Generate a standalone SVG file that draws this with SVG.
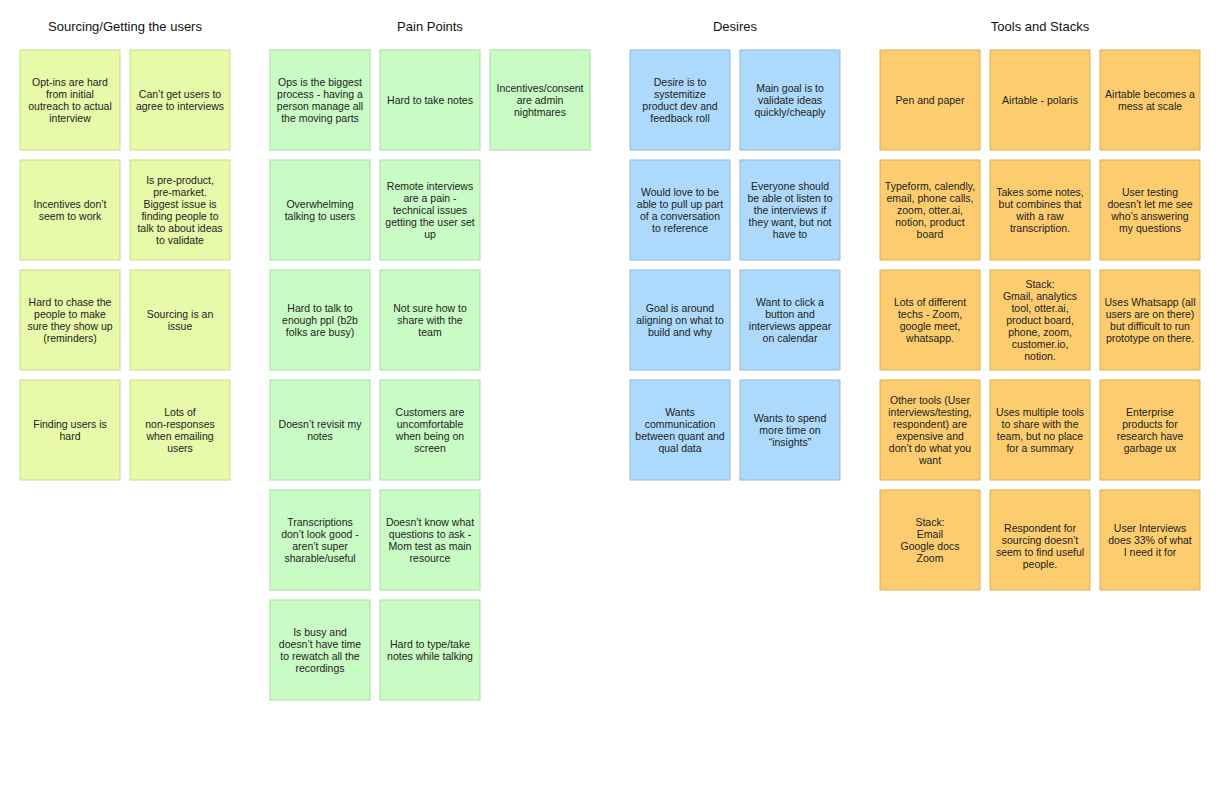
<svg xmlns="http://www.w3.org/2000/svg" width="1224" height="792" viewBox="0 0 1224 792">
<style>
text{font-family:"Liberation Sans",Arial,sans-serif;font-size:10.5px;fill:#222;text-anchor:middle}
.h{font-size:13px;fill:#111}
rect{stroke-width:1}
.a rect{fill:#e8f9a9;stroke:#c8dc8c}
.b rect{fill:#c9fcc4;stroke:#a8dba0}
.c rect{fill:#acd9fc;stroke:#8bbbe0}
.d rect{fill:#fdcc6e;stroke:#dcae52}
</style>
<rect x="0" y="0" width="1224" height="792" fill="#fff" stroke="none"/>
<g id="titles">
<text class="h" x="125" y="31">Sourcing/Getting the users</text>
<text class="h" x="430" y="31">Pain Points</text>
<text class="h" x="735" y="31">Desires</text>
<text class="h" x="1040" y="31">Tools and Stacks</text>
</g>
<g id="connectors"/>
<g class="a">
<g id="s1"><rect x="20" y="50" width="100" height="100"/><text x="70" y="86"><tspan x="70">Opt-ins are hard</tspan><tspan x="70" dy="12">from initial</tspan><tspan x="70" dy="12">outreach to actual</tspan><tspan x="70" dy="12">interview</tspan></text></g>
<g id="s2"><rect x="130" y="50" width="100" height="100"/><text x="180" y="98"><tspan x="180">Can’t get users to</tspan><tspan x="180" dy="12">agree to interviews</tspan></text></g>
<g id="s3"><rect x="20" y="160" width="100" height="100"/><text x="70" y="208"><tspan x="70">Incentives don’t</tspan><tspan x="70" dy="12">seem to work</tspan></text></g>
<g id="s4"><rect x="130" y="160" width="100" height="100"/><text x="180" y="184"><tspan x="180">Is pre-product,</tspan><tspan x="180" dy="12">pre-market.</tspan><tspan x="180" dy="12">Biggest issue is</tspan><tspan x="180" dy="12">finding people to</tspan><tspan x="180" dy="12">talk to about ideas</tspan><tspan x="180" dy="12">to validate</tspan></text></g>
<g id="s5"><rect x="20" y="270" width="100" height="100"/><text x="70" y="306"><tspan x="70">Hard to chase the</tspan><tspan x="70" dy="12">people to make</tspan><tspan x="70" dy="12">sure they show up</tspan><tspan x="70" dy="12">(reminders)</tspan></text></g>
<g id="s6"><rect x="130" y="270" width="100" height="100"/><text x="180" y="318"><tspan x="180">Sourcing is an</tspan><tspan x="180" dy="12">issue</tspan></text></g>
<g id="s7"><rect x="20" y="380" width="100" height="100"/><text x="70" y="428"><tspan x="70">Finding users is</tspan><tspan x="70" dy="12">hard</tspan></text></g>
<g id="s8"><rect x="130" y="380" width="100" height="100"/><text x="180" y="416"><tspan x="180">Lots of</tspan><tspan x="180" dy="12">non-responses</tspan><tspan x="180" dy="12">when emailing</tspan><tspan x="180" dy="12">users</tspan></text></g>
</g>
<g class="b">
<g id="p1"><rect x="270" y="50" width="100" height="100"/><text x="320" y="86"><tspan x="320">Ops is the biggest</tspan><tspan x="320" dy="12">process - having a</tspan><tspan x="320" dy="12">person manage all</tspan><tspan x="320" dy="12">the moving parts</tspan></text></g>
<g id="p2"><rect x="380" y="50" width="100" height="100"/><text x="430" y="104">Hard to take notes</text></g>
<g id="p3"><rect x="490" y="50" width="100" height="100"/><text x="540" y="92"><tspan x="540">Incentives/consent</tspan><tspan x="540" dy="12">are admin</tspan><tspan x="540" dy="12">nightmares</tspan></text></g>
<g id="p4"><rect x="270" y="160" width="100" height="100"/><text x="320" y="208"><tspan x="320">Overwhelming</tspan><tspan x="320" dy="12">talking to users</tspan></text></g>
<g id="p5"><rect x="380" y="160" width="100" height="100"/><text x="430" y="190"><tspan x="430">Remote interviews</tspan><tspan x="430" dy="12">are a pain -</tspan><tspan x="430" dy="12">technical issues</tspan><tspan x="430" dy="12">getting the user set</tspan><tspan x="430" dy="12">up</tspan></text></g>
<g id="p6"><rect x="270" y="270" width="100" height="100"/><text x="320" y="312"><tspan x="320">Hard to talk to</tspan><tspan x="320" dy="12">enough ppl (b2b</tspan><tspan x="320" dy="12">folks are busy)</tspan></text></g>
<g id="p7"><rect x="380" y="270" width="100" height="100"/><text x="430" y="312"><tspan x="430">Not sure how to</tspan><tspan x="430" dy="12">share with the</tspan><tspan x="430" dy="12">team</tspan></text></g>
<g id="p8"><rect x="270" y="380" width="100" height="100"/><text x="320" y="428"><tspan x="320">Doesn’t revisit my</tspan><tspan x="320" dy="12">notes</tspan></text></g>
<g id="p9"><rect x="380" y="380" width="100" height="100"/><text x="430" y="416"><tspan x="430">Customers are</tspan><tspan x="430" dy="12">uncomfortable</tspan><tspan x="430" dy="12">when being on</tspan><tspan x="430" dy="12">screen</tspan></text></g>
<g id="p10"><rect x="270" y="490" width="100" height="100"/><text x="320" y="526"><tspan x="320">Transcriptions</tspan><tspan x="320" dy="12">don’t look good -</tspan><tspan x="320" dy="12">aren’t super</tspan><tspan x="320" dy="12">sharable/useful</tspan></text></g>
<g id="p11"><rect x="380" y="490" width="100" height="100"/><text x="430" y="526"><tspan x="430">Doesn’t know what</tspan><tspan x="430" dy="12">questions to ask -</tspan><tspan x="430" dy="12">Mom test as main</tspan><tspan x="430" dy="12">resource</tspan></text></g>
<g id="p12"><rect x="270" y="600" width="100" height="100"/><text x="320" y="636"><tspan x="320">Is busy and</tspan><tspan x="320" dy="12">doesn’t have time</tspan><tspan x="320" dy="12">to rewatch all the</tspan><tspan x="320" dy="12">recordings</tspan></text></g>
<g id="p13"><rect x="380" y="600" width="100" height="100"/><text x="430" y="648"><tspan x="430">Hard to type/take</tspan><tspan x="430" dy="12">notes while talking</tspan></text></g>
</g>
<g class="c">
<g id="d1"><rect x="630" y="50" width="100" height="100"/><text x="680" y="86"><tspan x="680">Desire is to</tspan><tspan x="680" dy="12">systemitize</tspan><tspan x="680" dy="12">product dev and</tspan><tspan x="680" dy="12">feedback roll</tspan></text></g>
<g id="d2"><rect x="740" y="50" width="100" height="100"/><text x="790" y="92"><tspan x="790">Main goal is to</tspan><tspan x="790" dy="12">validate ideas</tspan><tspan x="790" dy="12">quickly/cheaply</tspan></text></g>
<g id="d3"><rect x="630" y="160" width="100" height="100"/><text x="680" y="196"><tspan x="680">Would love to be</tspan><tspan x="680" dy="12">able to pull up part</tspan><tspan x="680" dy="12">of a conversation</tspan><tspan x="680" dy="12">to reference</tspan></text></g>
<g id="d4"><rect x="740" y="160" width="100" height="100"/><text x="790" y="190"><tspan x="790">Everyone should</tspan><tspan x="790" dy="12">be able ot listen to</tspan><tspan x="790" dy="12">the interviews if</tspan><tspan x="790" dy="12">they want, but not</tspan><tspan x="790" dy="12">have to</tspan></text></g>
<g id="d5"><rect x="630" y="270" width="100" height="100"/><text x="680" y="312"><tspan x="680">Goal is around</tspan><tspan x="680" dy="12">aligning on what to</tspan><tspan x="680" dy="12">build and why</tspan></text></g>
<g id="d6"><rect x="740" y="270" width="100" height="100"/><text x="790" y="306"><tspan x="790">Want to click a</tspan><tspan x="790" dy="12">button and</tspan><tspan x="790" dy="12">interviews appear</tspan><tspan x="790" dy="12">on calendar</tspan></text></g>
<g id="d7"><rect x="630" y="380" width="100" height="100"/><text x="680" y="416"><tspan x="680">Wants</tspan><tspan x="680" dy="12">communication</tspan><tspan x="680" dy="12">between quant and</tspan><tspan x="680" dy="12">qual data</tspan></text></g>
<g id="d8"><rect x="740" y="380" width="100" height="100"/><text x="790" y="422"><tspan x="790">Wants to spend</tspan><tspan x="790" dy="12">more time on</tspan><tspan x="790" dy="12">“insights”</tspan></text></g>
</g>
<g class="d">
<g id="t1"><rect x="880" y="50" width="100" height="100"/><text x="930" y="104">Pen and paper</text></g>
<g id="t2"><rect x="990" y="50" width="100" height="100"/><text x="1040" y="104">Airtable - polaris</text></g>
<g id="t3"><rect x="1100" y="50" width="100" height="100"/><text x="1150" y="98"><tspan x="1150">Airtable becomes a</tspan><tspan x="1150" dy="12">mess at scale</tspan></text></g>
<g id="t4"><rect x="880" y="160" width="100" height="100"/><text x="930" y="190"><tspan x="930">Typeform, calendly,</tspan><tspan x="930" dy="12">email, phone calls,</tspan><tspan x="930" dy="12">zoom, otter.ai,</tspan><tspan x="930" dy="12">notion, product</tspan><tspan x="930" dy="12">board</tspan></text></g>
<g id="t5"><rect x="990" y="160" width="100" height="100"/><text x="1040" y="196"><tspan x="1040">Takes some notes,</tspan><tspan x="1040" dy="12">but combines that</tspan><tspan x="1040" dy="12">with a raw</tspan><tspan x="1040" dy="12">transcription.</tspan></text></g>
<g id="t6"><rect x="1100" y="160" width="100" height="100"/><text x="1150" y="196"><tspan x="1150">User testing</tspan><tspan x="1150" dy="12">doesn’t let me see</tspan><tspan x="1150" dy="12">who’s answering</tspan><tspan x="1150" dy="12">my questions</tspan></text></g>
<g id="t7"><rect x="880" y="270" width="100" height="100"/><text x="930" y="306"><tspan x="930">Lots of different</tspan><tspan x="930" dy="12">techs - Zoom,</tspan><tspan x="930" dy="12">google meet,</tspan><tspan x="930" dy="12">whatsapp.</tspan></text></g>
<g id="t8"><rect x="990" y="270" width="100" height="100"/><text x="1040" y="288"><tspan x="1040">Stack:</tspan><tspan x="1040" dy="12">Gmail, analytics</tspan><tspan x="1040" dy="12">tool, otter.ai,</tspan><tspan x="1040" dy="12">product board,</tspan><tspan x="1040" dy="12">phone, zoom,</tspan><tspan x="1040" dy="12">customer.io,</tspan><tspan x="1040" dy="12">notion.</tspan></text></g>
<g id="t9"><rect x="1100" y="270" width="100" height="100"/><text x="1150" y="306"><tspan x="1150">Uses Whatsapp (all</tspan><tspan x="1150" dy="12">users are on there)</tspan><tspan x="1150" dy="12">but difficult to run</tspan><tspan x="1150" dy="12">prototype on there.</tspan></text></g>
<g id="t10"><rect x="880" y="380" width="100" height="100"/><text x="930" y="404"><tspan x="930">Other tools (User</tspan><tspan x="930" dy="12">interviews/testing,</tspan><tspan x="930" dy="12">respondent) are</tspan><tspan x="930" dy="12">expensive and</tspan><tspan x="930" dy="12">don’t do what you</tspan><tspan x="930" dy="12">want</tspan></text></g>
<g id="t11"><rect x="990" y="380" width="100" height="100"/><text x="1040" y="416"><tspan x="1040">Uses multiple tools</tspan><tspan x="1040" dy="12">to share with the</tspan><tspan x="1040" dy="12">team, but no place</tspan><tspan x="1040" dy="12">for a summary</tspan></text></g>
<g id="t12"><rect x="1100" y="380" width="100" height="100"/><text x="1150" y="416"><tspan x="1150">Enterprise</tspan><tspan x="1150" dy="12">products for</tspan><tspan x="1150" dy="12">research have</tspan><tspan x="1150" dy="12">garbage ux</tspan></text></g>
<g id="t13"><rect x="880" y="490" width="100" height="100"/><text x="930" y="526"><tspan x="930">Stack:</tspan><tspan x="930" dy="12">Email</tspan><tspan x="930" dy="12">Google docs</tspan><tspan x="930" dy="12">Zoom</tspan></text></g>
<g id="t14"><rect x="990" y="490" width="100" height="100"/><text x="1040" y="532"><tspan x="1040">Respondent for</tspan><tspan x="1040" dy="12">sourcing doesn’t</tspan><tspan x="1040" dy="12">seem to find useful</tspan><tspan x="1040" dy="12">people.</tspan></text></g>
<g id="t15"><rect x="1100" y="490" width="100" height="100"/><text x="1150" y="532"><tspan x="1150">User Interviews</tspan><tspan x="1150" dy="12">does 33% of what</tspan><tspan x="1150" dy="12">I need it for</tspan></text></g>
</g>
</svg>
